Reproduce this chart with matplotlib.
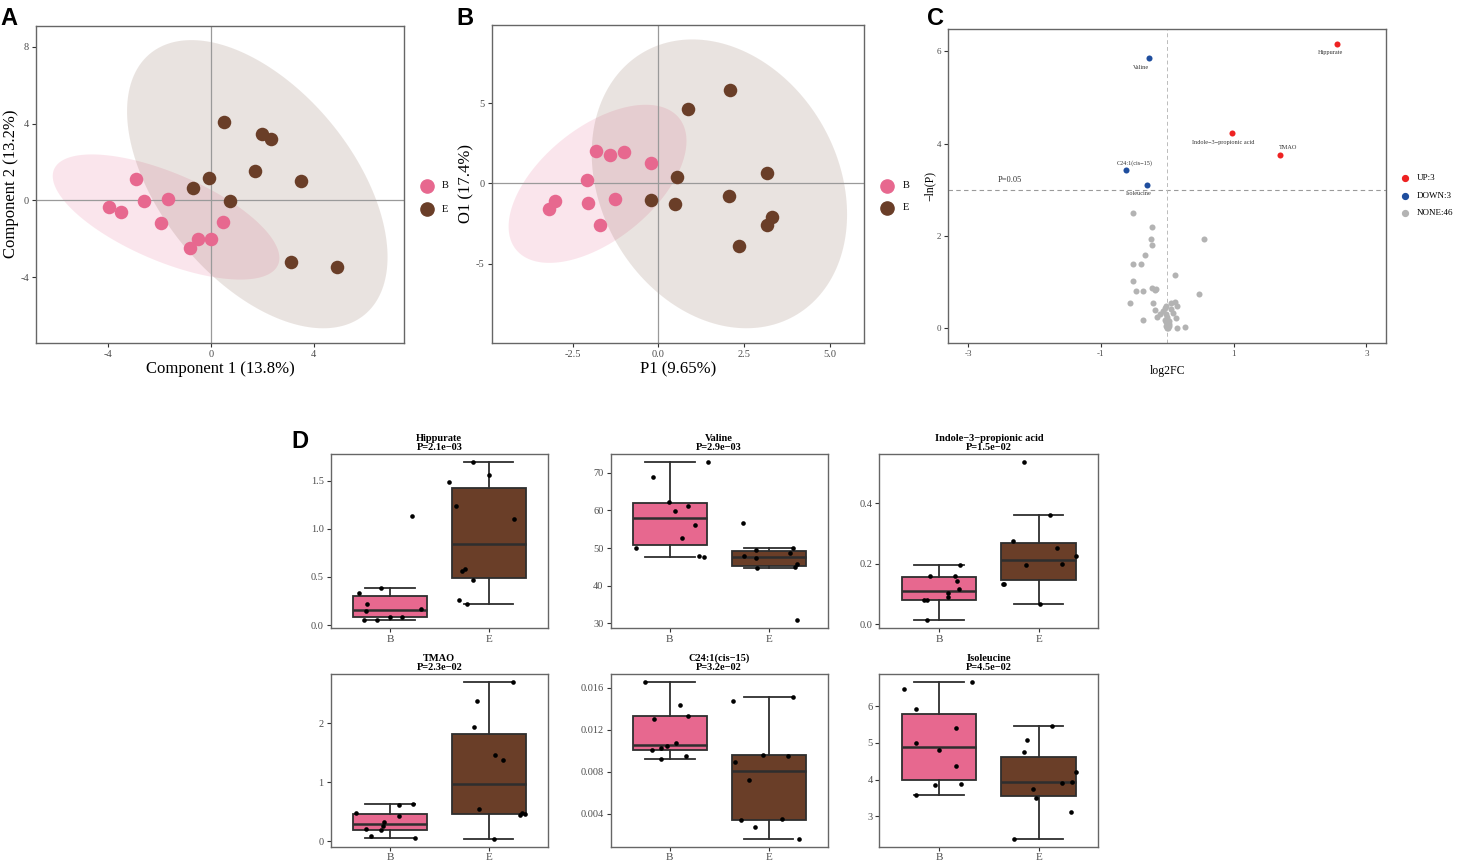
import numpy as np
import matplotlib.pyplot as plt
from matplotlib.patches import Polygon
from matplotlib.lines import Line2D

plt.rcParams['font.family'] = ['Liberation Serif', 'DejaVu Serif']
plt.rcParams['axes.unicode_minus'] = False

# ---- panel A: PLS-DA scores ----
a_b_x = [-3.98, -3.52, -2.91, -2.60, -1.68, -1.94, -0.80, -0.50, -0.01, 0.47]
a_b_y = [-0.36, -0.62, 1.12, -0.05, 0.10, -1.18, -2.46, -2.02, -2.02, -1.12]
a_e_x = [0.52, 1.98, 2.34, 1.72, 3.51, -0.08, -0.69, 0.74, 3.13, 4.92]
a_e_y = [4.10, 3.48, 3.20, 1.56, 0.99, 1.19, 0.66, -0.03, -3.18, -3.49]

# ---- panel B: OPLS-DA scores ----
b_b_x = [-1.82, -1.40, -1.01, -0.21, -2.07, -2.05, -1.27, -3.01, -3.19, -1.70]
b_b_y = [2.02, 1.75, 1.98, 1.30, 0.19, -1.22, -0.99, -1.09, -1.61, -2.58]
b_e_x = [2.09, 0.87, 0.54, -0.22, 0.50, 3.16, 2.07, 3.32, 3.16, 2.35]
b_e_y = [5.81, 4.64, 0.37, -1.05, -1.30, 0.66, -0.78, -2.12, -2.60, -3.90]

# ---- panel C: volcano ----
up_names = ['Hippurate', 'Indole\u22123\u2212propionic acid', 'TMAO']
up_x = [2.56, 0.97, 1.69]
up_y = [6.17, 4.22, 3.76]
down_names = ['Valine', 'C24:1(cis\u221215)', 'Isoleucine']
down_x = [-0.27, -0.62, -0.31]
down_y = [5.85, 3.43, 3.10]
none_x = [-0.51, -0.23, -0.24, -0.23, -0.34, -0.52, -0.39, -0.52, -0.47, -0.37,
          -0.23, -0.19, -0.17, -0.56, -0.21, 0.11, 0.47, 0.55, -0.19, -0.37,
          -0.15, -0.11, -0.04, -0.02, 0.05, 0.12, 0.14, 0.09, 0.13, 0.14,
          0.26, -0.02, 0.00, -0.01, 0.01, -0.02, 0.01, 0.00, 0.02, -0.02,
          -0.03, 0.03, 0.02, -0.01, -0.06, 0.06]
none_y = [2.50, 2.18, 1.94, 1.81, 1.58, 1.38, 1.38, 1.02, 0.81, 0.81,
          0.87, 0.83, 0.84, 0.55, 0.55, 1.15, 0.73, 1.94, 0.38, 0.17,
          0.23, 0.31, 0.43, 0.48, 0.54, 0.56, 0.47, 0.33, 0.22, -0.01,
          0.02, 0.30, 0.23, 0.16, 0.11, 0.05, 0.01, 0.19, 0.09, 0.12,
          0.18, 0.15, 0.05, -0.01, 0.37, 0.41]

# ---- panel D: boxplots (B group, E group) ----
metab_names = ['Hippurate', 'Valine', 'Indole\u22123\u2212propionic acid',
               'TMAO', 'C24:1(cis\u221215)', 'Isoleucine']
metab_p = ['P=2.1e\u221203', 'P=2.9e\u221203', 'P=1.5e\u221202',
           'P=2.3e\u221202', 'P=3.2e\u221202', 'P=4.5e\u221202']
hip_b = [0.33, 0.39, 0.22, 0.145, 0.05, 0.05, 0.083, 0.083, 0.165, 1.13]
hip_e = [1.48, 1.24, 1.69, 1.56, 1.105, 0.585, 0.56, 0.47, 0.26, 0.215]
val_b = [69.0, 72.8, 62.2, 59.8, 61.2, 56.2, 52.8, 50.0, 47.9, 47.5]
val_e = [56.6, 47.8, 49.4, 47.4, 44.6, 49.9, 48.6, 45.9, 44.9, 30.8]
ind_b = [0.159, 0.159, 0.1425, 0.116, 0.103, 0.088, 0.078, 0.078, 0.196, 0.012]
ind_e = [0.535, 0.361, 0.273, 0.252, 0.225, 0.194, 0.200, 0.131, 0.131, 0.067]
tma_b = [0.486, 0.218, 0.10, 0.19, 0.263, 0.33, 0.615, 0.626, 0.425, 0.061]
tma_e = [2.70, 2.37, 1.93, 1.46, 1.385, 0.547, 0.45, 0.475, 0.47, 0.039]
c24_b = [0.01657, 0.01439, 0.01304, 0.01335, 0.01071, 0.01043, 0.01024, 0.01005, 0.00951, 0.00926]
c24_e = [0.01475, 0.00896, 0.00962, 0.0072, 0.0034, 0.00277, 0.0035, 0.00158, 0.01512, 0.00953]
ile_b = [6.46, 6.66, 5.91, 5.41, 4.99, 4.81, 4.38, 3.86, 3.87, 3.58]
ile_e = [5.45, 5.09, 4.74, 4.21, 3.92, 3.94, 3.75, 3.50, 3.11, 2.38]

# horizontal jitter of the sample points
hip_jb = [-0.31, -0.09, -0.23, -0.24, -0.26, -0.13, 0.0, 0.12, 0.31, 0.22]
hip_je = [-0.40, -0.33, -0.16, 0.0, 0.26, -0.24, -0.27, -0.16, -0.30, -0.22]
val_jb = [-0.17, 0.39, -0.01, 0.05, 0.18, 0.25, 0.12, -0.34, 0.30, 0.35]
val_je = [-0.26, -0.25, -0.13, -0.13, -0.12, 0.25, 0.22, 0.29, 0.27, 0.29]
ind_jb = [-0.09, 0.16, 0.18, 0.20, 0.09, 0.09, -0.15, -0.12, 0.21, -0.12]
ind_je = [-0.15, 0.11, -0.26, 0.18, 0.38, -0.13, 0.23, -0.36, -0.35, 0.01]
tma_jb = [-0.34, -0.24, -0.19, -0.09, -0.07, -0.06, 0.09, 0.23, 0.09, 0.25]
tma_je = [0.24, -0.12, -0.15, 0.06, 0.14, -0.10, 0.32, 0.34, 0.37, 0.05]
c24_jb = [-0.25, 0.10, -0.16, 0.18, 0.06, -0.03, -0.09, -0.18, 0.16, -0.09]
c24_je = [-0.36, -0.34, -0.06, -0.20, -0.28, -0.14, 0.13, 0.31, 0.25, 0.20]
ile_jb = [-0.35, 0.33, -0.23, 0.17, -0.23, 0.0, 0.17, -0.04, 0.22, -0.23]
ile_je = [0.13, -0.12, -0.15, 0.38, 0.23, 0.34, -0.06, -0.03, 0.33, -0.25]

PINK = '#E7688F'
BROWN = '#6A3E28'
TICK_COL = '#4D4D4D'
EDGE_COL = '#666666'

W, H = 1460, 863
fig = plt.figure(figsize=(W / 100, H / 100), dpi=100)


def px_axes(x0, y0, x1, y1):
    return fig.add_axes([x0 / W, 1 - y1 / H, (x1 - x0) / W, (y1 - y0) / H])


def fpt(x, y):
    return x / W, 1 - y / H


def style_axes(ax, size=7.5):
    for s in ax.spines.values():
        s.set_color(EDGE_COL)
        s.set_linewidth(1.0)
    ax.tick_params(length=3, width=0.8, color='#333333', labelcolor=TICK_COL,
                   labelsize=size, pad=2)


def ellipse_xy(x, y, level=0.95, n=200):
    # same construction as ggplot2 stat_ellipse(type = "norm")
    pts = np.column_stack([x, y])
    mu = pts.mean(axis=0)
    cov = np.cov(pts.T)
    dfd = len(x) - 1
    fq = (dfd / 2) * ((1 - level) ** (-2 / dfd) - 1)
    r = np.sqrt(2 * fq)
    t = np.linspace(0, 2 * np.pi, n)
    circle = np.column_stack([np.cos(t), np.sin(t)])
    chol = np.linalg.cholesky(cov)
    return mu + r * circle @ chol.T


def expand(lo, hi, f=0.05):
    d = (hi - lo) * f
    return lo - d, hi + d


def score_panel(ax, xb, yb, xe, ye, xticks, xtl, yticks, xlabel, ylabel):
    eb = ellipse_xy(xb, yb)
    ee = ellipse_xy(xe, ye)
    ax.add_patch(Polygon(eb, closed=True, fc=PINK, alpha=0.17, ec='none', zorder=1))
    ax.add_patch(Polygon(ee, closed=True, fc=BROWN, alpha=0.14, ec='none', zorder=1))
    ax.axhline(0, color='#9a9a9a', lw=0.9, zorder=2)
    ax.axvline(0, color='#9a9a9a', lw=0.9, zorder=2)
    ax.scatter(xb, yb, s=95, c=PINK, lw=0, zorder=3)
    ax.scatter(xe, ye, s=95, c=BROWN, lw=0, zorder=3)
    allx = np.concatenate([eb[:, 0], ee[:, 0], xb, xe])
    ally = np.concatenate([eb[:, 1], ee[:, 1], yb, ye])
    ax.set_xlim(*expand(allx.min(), allx.max()))
    ax.set_ylim(*expand(ally.min(), ally.max()))
    ax.set_xticks(xticks)
    ax.set_xticklabels(xtl)
    ax.set_yticks(yticks)
    style_axes(ax, 7.5)
    ax.set_xlabel(xlabel, fontsize=12, labelpad=2)
    ax.set_ylabel(ylabel, fontsize=12, labelpad=1)


def group_legend(x, y0, y1, tx):
    for yy, col, lab in [(y0, PINK, 'B'), (y1, BROWN, 'E')]:
        fig.add_artist(Line2D([fpt(x, yy)[0]], [fpt(x, yy)[1]], marker='o', ms=9.5,
                              mfc=col, mec=col, ls='none', transform=fig.transFigure))
        fig.text(*fpt(tx, yy), lab, fontsize=7.5, ha='left', va='center')


# ---------------- A ----------------
axA = px_axes(36, 25.7, 404.3, 342.7)
score_panel(axA, a_b_x, a_b_y, a_e_x, a_e_y, [-4, 0, 4], ['-4', '0', '4'],
            [-4, 0, 4, 8], 'Component 1 (13.8%)', 'Component 2 (13.2%)')
group_legend(426.7, 185.7, 209, 442)

# ---------------- B ----------------
axB = px_axes(491.7, 25, 864, 342.7)
score_panel(axB, b_b_x, b_b_y, b_e_x, b_e_y, [-2.5, 0, 2.5, 5.0],
            ['-2.5', '0.0', '2.5', '5.0'], [-5, 0, 5], 'P1 (9.65%)', 'O1 (17.4%)')
group_legend(886.7, 185.7, 207.7, 903)

# ---------------- C ----------------
axC = px_axes(948.2, 29.3, 1386.4, 342.7)
RED, BLUE, GREY = '#EE2222', '#1F4E9E', '#B3B3B3'
axC.scatter(none_x, none_y, s=19, c=GREY, lw=0, zorder=3)
axC.scatter(up_x, up_y, s=19, c=RED, lw=0, zorder=3)
axC.scatter(down_x, down_y, s=19, c=BLUE, lw=0, zorder=3)
axC.axhline(-np.log(0.05), color='#9a9a9a', lw=0.8, ls=(0, (4, 3)), zorder=2)
axC.axvline(0, color='#bbbbbb', lw=0.7, ls=(0, (4, 3)), zorder=2)
axC.text(-2.55, 3.12, 'P=0.05', fontsize=6, ha='left', va='bottom', color='#333333')
lab_off = {'Hippurate': (-5, -4.5, 'center', 'top'),
           'Indole\u22123\u2212propionic acid': (-6, -4.5, 'center', 'top'),
           'TMAO': (6, 3, 'center', 'bottom'),
           'Valine': (-6, -4.5, 'center', 'top'),
           'C24:1(cis\u221215)': (6, 3, 'center', 'bottom'),
           'Isoleucine': (-6, -4, 'center', 'top')}
for nm, xx, yy in list(zip(up_names, up_x, up_y)) + list(zip(down_names, down_x, down_y)):
    dx, dy, ha, va = lab_off[nm]
    axC.annotate(nm, (xx, yy), xytext=(dx, dy), textcoords='offset points',
                 fontsize=4.5, ha=ha, va=va, color='#333333')
axC.set_xlim(-3.3, 3.3)
allc = np.array(up_y + down_y + none_y)
axC.set_ylim(*expand(allc.min(), allc.max()))
axC.set_xticks([-3, -1, 1, 3])
axC.set_yticks([0, 2, 4, 6])
style_axes(axC, 6.5)
axC.set_xlabel('log2FC', fontsize=8.5, labelpad=5)
axC.set_ylabel('\u2212ln(P)', fontsize=8.5, labelpad=1)
for yy, col, lab in [(178, RED, 'UP:3'), (195.7, BLUE, 'DOWN:3'), (212.7, GREY, 'NONE:46')]:
    fig.add_artist(Line2D([fpt(1405, yy)[0]], [fpt(1405, yy)[1]], marker='o', ms=4.2,
                          mfc=col, mec=col, ls='none', transform=fig.transFigure))
    fig.text(*fpt(1417, yy), lab, fontsize=6.5, ha='left', va='center')

# ---------------- D ----------------
cols = [(330.6, 548.1), (610.5, 828.0), (879.5, 1098.3)]
rows = [(454.3, 628.3), (674.0, 847.0)]
box_sets = [
    (hip_b, hip_e, hip_jb, hip_je, [0.0, 0.5, 1.0, 1.5], ['0.0', '0.5', '1.0', '1.5']),
    (val_b, val_e, val_jb, val_je, [30, 40, 50, 60, 70], ['30', '40', '50', '60', '70']),
    (ind_b, ind_e, ind_jb, ind_je, [0.0, 0.2, 0.4], ['0.0', '0.2', '0.4']),
    (tma_b, tma_e, tma_jb, tma_je, [0, 1, 2], ['0', '1', '2']),
    (c24_b, c24_e, c24_jb, c24_je, [0.004, 0.008, 0.012, 0.016],
     ['0.004', '0.008', '0.012', '0.016']),
    (ile_b, ile_e, ile_jb, ile_je, [3, 4, 5, 6], ['3', '4', '5', '6']),
]
LINE = '#2E2E2E'
for i, (vb, ve, jb, je, yt, ytl) in enumerate(box_sets):
    x0, x1 = cols[i % 3]
    y0, y1 = rows[i // 3]
    ax = px_axes(x0, y0, x1, y1)
    bp = ax.boxplot([vb, ve], positions=[1, 2], widths=0.75, patch_artist=True,
                    showfliers=False, capwidths=0.5,
                    boxprops=dict(color=LINE, lw=1.3),
                    whiskerprops=dict(color=LINE, lw=1.3),
                    capprops=dict(color=LINE, lw=1.3),
                    medianprops=dict(color=LINE, lw=1.8))
    for patch, col in zip(bp['boxes'], [PINK, BROWN]):
        patch.set_facecolor(col)
    ax.scatter(1 + np.array(jb), vb, s=11, c='black', lw=0, zorder=4)
    ax.scatter(2 + np.array(je), ve, s=11, c='black', lw=0, zorder=4)
    allv = np.array(vb + ve)
    ax.set_xlim(0.4, 2.6)
    ax.set_ylim(*expand(allv.min(), allv.max()))
    ax.set_xticks([1, 2])
    ax.set_xticklabels(['B', 'E'])
    ax.set_yticks(yt)
    ax.set_yticklabels(ytl)
    style_axes(ax, 7.5)
    ax.tick_params(axis='x', labelsize=8, pad=1.5)
    ax.set_title(metab_names[i] + '\n' + metab_p[i], fontsize=7.5,
                 fontweight='bold', pad=3, linespacing=0.95)

# panel letters
for lab, x, y in [('A', 0, 25), ('B', 456.5, 25), ('C', 926.5, 25), ('D', 291, 448)]:
    fig.text(*fpt(x, y), lab, fontsize=17, fontweight='bold', ha='left',
             va='baseline', family=['Liberation Sans', 'DejaVu Sans'])

fig.savefig('out.png', dpi=100, facecolor='white')
